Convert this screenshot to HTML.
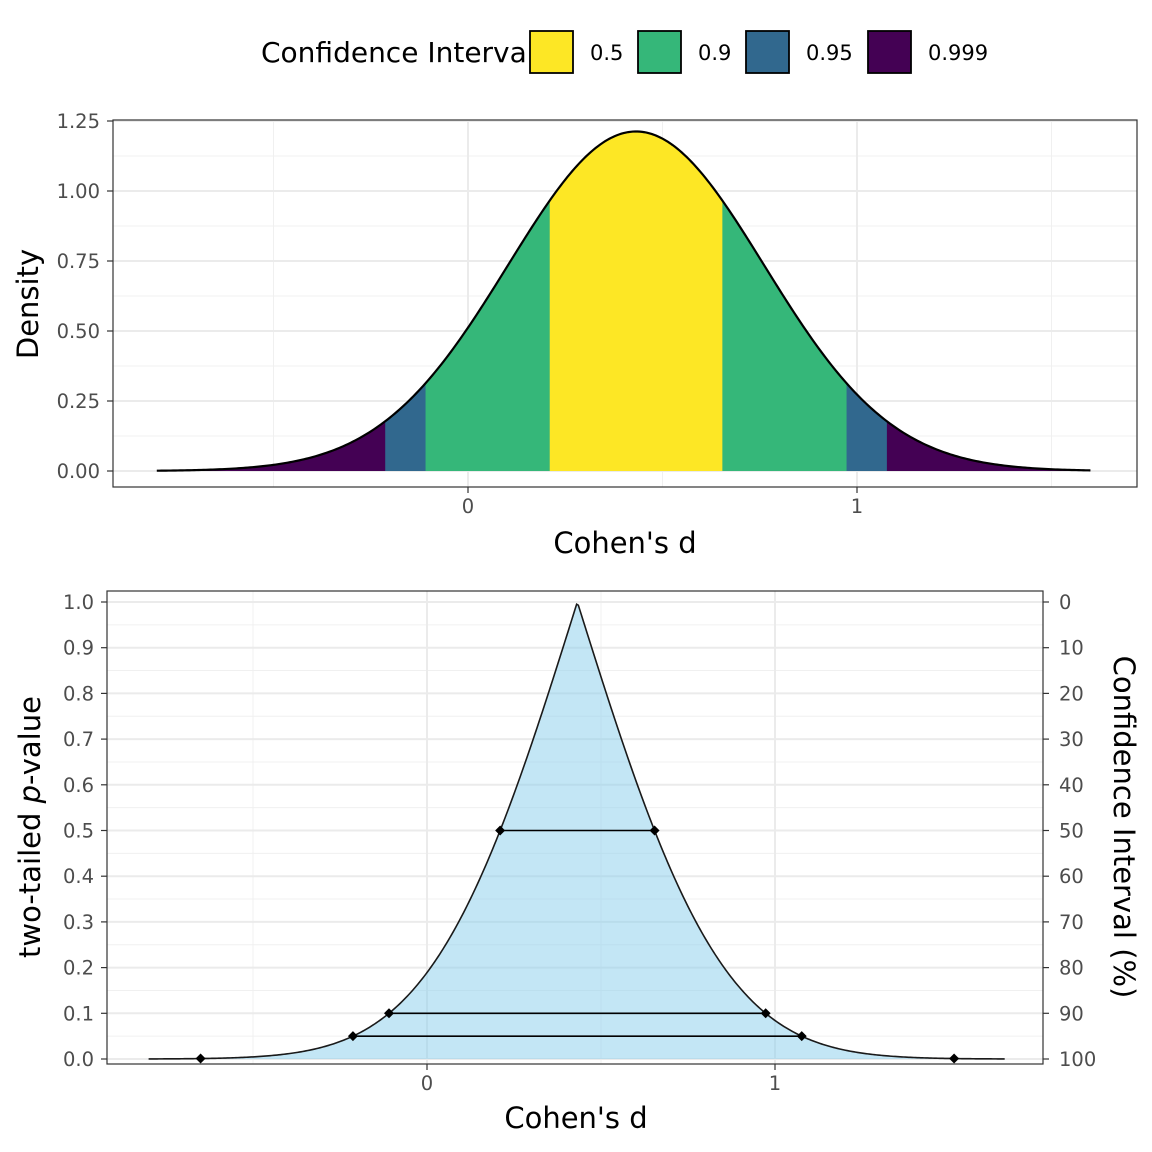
<!DOCTYPE html>
<html><head><meta charset="utf-8">
<style>
html,body{margin:0;padding:0;background:#fff;}
svg{display:block;font-family:"DejaVu Sans","Liberation Sans",sans-serif;}
</style></head>
<body>
<svg id="chart" width="1152" height="1152" viewBox="0 0 1152 1152"></svg>
<script>
// ---- data ----
const estimate = [0.432];
const stdError = [0.329];
const ciLevels = [0.999, 0.95, 0.9, 0.5];
const ciColors = ["#440154", "#31688E", "#35B779", "#FDE725"];
const legendLabels = ["0.5", "0.9", "0.95", "0.999"];
const legendColors = ["#FDE725", "#35B779", "#31688E", "#440154"];
const topYTicks = [0, 0.25, 0.5, 0.75, 1.0, 1.25];
const topYTickLabels = ["0.00", "0.25", "0.50", "0.75", "1.00", "1.25"];
const xTicks = [0, 1];
const xTickLabels = ["0", "1"];
const botYTicks = [0, 0.1, 0.2, 0.3, 0.4, 0.5, 0.6, 0.7, 0.8, 0.9, 1.0];
const botYTickLabels = ["0.0","0.1","0.2","0.3","0.4","0.5","0.6","0.7","0.8","0.9","1.0"];
const rightTickLabels = ["100","90","80","70","60","50","40","30","20","10","0"];
const pointLevels = [0.5, 0.1, 0.05, 0.001];
const xRange = [-0.8, 1.6];

const NS = "http://www.w3.org/2000/svg";
const svg = document.getElementById("chart");
const TICK_FS = 19.5, TITLE_FS = 29;
function mk(tag, attrs, parent) {
  const e = document.createElementNS(NS, tag);
  for (const k in attrs) e.setAttribute(k, attrs[k]);
  (parent || svg).appendChild(e);
  return e;
}
function erf(x){const s=x<0?-1:1;x=Math.abs(x);const t=1/(1+0.3275911*x);
  const y=1-(((((1.061405429*t-1.453152027)*t)+1.421413741)*t-0.284496736)*t+0.254829592)*t*Math.exp(-x*x);return s*y;}
function pnorm(z){return 0.5*(1+erf(z/Math.SQRT2));}
function qnorm(p){let lo=-10,hi=10;for(let i=0;i<100;i++){const m=(lo+hi)/2;if(pnorm(m)<p)lo=m;else hi=m;}return (lo+hi)/2;}
const m = estimate[0], se = stdError[0];
function dens(x){const z=(x-m)/se;return Math.exp(-z*z/2)/(se*Math.sqrt(2*Math.PI));}
function pval(x){return 2*(1-pnorm(Math.abs(x-m)/se));}

// ---- legend ----
const lg = mk("g", {});


const lt = mk("text", {x:261, y:62, "font-size":28, fill:"#000"}, lg);
lt.textContent = "Confidence Interval";


const keyX = [530, 638, 746, 868];
legendLabels.forEach((lab, i) => {
  const r = mk("rect", {x:keyX[i], y:31, width:43, height:42, fill:legendColors[i], stroke:"#000", "stroke-width":1.8}, lg);
  
  
  const t = mk("text", {x:keyX[i]+60, y:60, "font-size":21, fill:"#000"}, lg);
  t.textContent = lab;
  
  
});

// ---- top panel ----
const T = {l:113, r:1137, t:120, b:487};
const tx = x => 468 + x*389;
const ty = y => 471 - y*280;
const tg = mk("g", {});


mk("rect", {x:T.l, y:T.t, width:T.r-T.l, height:T.b-T.t, fill:"#fff"}, tg);
[-0.5,0.5,1.5].forEach(v=>mk("line",{x1:tx(v),x2:tx(v),y1:T.t,y2:T.b,stroke:"#F0F0F0","stroke-width":1},tg));
[0.125,0.375,0.625,0.875,1.125].forEach(v=>mk("line",{x1:T.l,x2:T.r,y1:ty(v),y2:ty(v),stroke:"#F0F0F0","stroke-width":1},tg));
xTicks.forEach(v=>mk("line",{x1:tx(v),x2:tx(v),y1:T.t,y2:T.b,stroke:"#EBEBEB","stroke-width":2},tg));
topYTicks.forEach(v=>mk("line",{x1:T.l,x2:T.r,y1:ty(v),y2:ty(v),stroke:"#EBEBEB","stroke-width":2},tg));
function areaPath(a,b){let d=`M${tx(a)},${ty(0)}`;const n=120;for(let i=0;i<=n;i++){const x=a+(b-a)*i/n;d+=` L${tx(x)},${ty(dens(x))}`;}return d+` L${tx(b)},${ty(0)} Z`;}
ciLevels.forEach((lev,i)=>{
  const h = qnorm(0.5+lev/2)*se;
  const a = i===0 ? xRange[0] : m-h, b = i===0 ? xRange[1] : m+h;
  const p = mk("path",{d:areaPath(a,b),fill:ciColors[i]},tg);
  
  
});
{let d="";for(let i=0;i<=400;i++){const x=xRange[0]+(xRange[1]-xRange[0])*i/400;d+=(i?" L":"M")+tx(x)+","+ty(dens(x));}
 const c=mk("path",{d,fill:"none",stroke:"#000","stroke-width":2.2},tg);
 
 }
mk("rect", {x:T.l, y:T.t, width:T.r-T.l, height:T.b-T.t, fill:"none", stroke:"#333","stroke-width":1.2}, tg);
topYTicks.forEach((v,i)=>{
  mk("line",{x1:T.l-6,x2:T.l,y1:ty(v),y2:ty(v),stroke:"#333","stroke-width":1.2},tg);
  const t=mk("text",{x:T.l-13,y:ty(v)+7,"text-anchor":"end","font-size":TICK_FS,fill:"#4D4D4D"},tg);
  t.textContent=topYTickLabels[i];
  
  
});
xTicks.forEach((v,i)=>{
  mk("line",{x1:tx(v),x2:tx(v),y1:T.b,y2:T.b+6,stroke:"#333","stroke-width":1.2},tg);
  const t=mk("text",{x:tx(v),y:T.b+26,"text-anchor":"middle","font-size":TICK_FS,fill:"#4D4D4D"},tg);
  t.textContent=xTickLabels[i];
  
  
});
{const t=mk("text",{x:625,y:553,"text-anchor":"middle","font-size":TITLE_FS,fill:"#000"},tg);t.textContent="Cohen's d";
  
 const u=mk("text",{x:0,y:0,transform:"translate(38,304) rotate(-90)","text-anchor":"middle","font-size":TITLE_FS,fill:"#000"},tg);u.textContent="Density";
  }

// ---- bottom panel ----
const B = {l:107, r:1043, t:591, b:1064};
const bx = x => 427 + x*348;
const by = y => 1059 - y*457;
const bg = mk("g", {});


mk("rect", {x:B.l, y:B.t, width:B.r-B.l, height:B.b-B.t, fill:"#fff"}, bg);
[-0.5,0.5].forEach(v=>mk("line",{x1:bx(v),x2:bx(v),y1:B.t,y2:B.b,stroke:"#F0F0F0","stroke-width":1},bg));
for(let k=0;k<10;k++){const v=0.05+k*0.1;mk("line",{x1:B.l,x2:B.r,y1:by(v),y2:by(v),stroke:"#F0F0F0","stroke-width":1},bg);}
xTicks.forEach(v=>mk("line",{x1:bx(v),x2:bx(v),y1:B.t,y2:B.b,stroke:"#EBEBEB","stroke-width":2},bg));
botYTicks.forEach(v=>mk("line",{x1:B.l,x2:B.r,y1:by(v),y2:by(v),stroke:"#EBEBEB","stroke-width":2},bg));
{const a=-0.8,b=1.66;let d=`M${bx(a)},${by(0)}`,dl="";
 for(let i=0;i<=500;i++){const x=a+(b-a)*i/500;const s=bx(x)+","+by(pval(x));d+=" L"+s;dl+=(i?" L":"M")+s;}
 d+=` L${bx(b)},${by(0)} Z`;
 const f=mk("path",{d,fill:"#87CEEB","fill-opacity":0.5},bg);
  
 const l=mk("path",{d:dl,fill:"none",stroke:"#1a1a1a","stroke-width":1.6},bg);
  }
pointLevels.forEach(p=>{
  const h=qnorm(1-p/2)*se;const x1=bx(m-h),x2=bx(m+h),y=by(p);
  if(p>0.01){const ln=mk("line",{x1,x2,y1:y,y2:y,stroke:"#000","stroke-width":1.6},bg);
     }
  [x1,x2].forEach(x=>{const d=mk("path",{d:`M${x},${y-5} L${x+5},${y} L${x},${y+5} L${x-5},${y} Z`,fill:"#000"},bg);
     });
});
mk("rect", {x:B.l, y:B.t, width:B.r-B.l, height:B.b-B.t, fill:"none", stroke:"#333","stroke-width":1.2}, bg);
botYTicks.forEach((v,i)=>{
  mk("line",{x1:B.l-6,x2:B.l,y1:by(v),y2:by(v),stroke:"#333","stroke-width":1.2},bg);
  const t=mk("text",{x:B.l-13,y:by(v)+7,"text-anchor":"end","font-size":TICK_FS,fill:"#4D4D4D"},bg);
  t.textContent=botYTickLabels[i];
   
  mk("line",{x1:B.r,x2:B.r+6,y1:by(v),y2:by(v),stroke:"#333","stroke-width":1.2},bg);
  const r=mk("text",{x:B.r+16,y:by(v)+7,"font-size":TICK_FS,fill:"#4D4D4D"},bg);
  r.textContent=rightTickLabels[i];
   
});
xTicks.forEach((v,i)=>{
  mk("line",{x1:bx(v),x2:bx(v),y1:B.b,y2:B.b+6,stroke:"#333","stroke-width":1.2},bg);
  const t=mk("text",{x:bx(v),y:B.b+26,"text-anchor":"middle","font-size":TICK_FS,fill:"#4D4D4D"},bg);
  t.textContent=xTickLabels[i];
   
});
{const t=mk("text",{x:576,y:1128,"text-anchor":"middle","font-size":TITLE_FS,fill:"#000"},bg);t.textContent="Cohen's d";
  
 const u=mk("text",{x:0,y:0,transform:"translate(40,827) rotate(-90)","text-anchor":"middle","font-size":TITLE_FS,fill:"#000"},bg);
 u.innerHTML='two-tailed <tspan font-style="italic">p</tspan>-value';
  
 const w=mk("text",{x:0,y:0,transform:"translate(1114,827) rotate(90)","text-anchor":"middle","font-size":TITLE_FS,fill:"#000"},bg);
 w.textContent="Confidence Interval (%)";
  }
</script>
</body></html>
